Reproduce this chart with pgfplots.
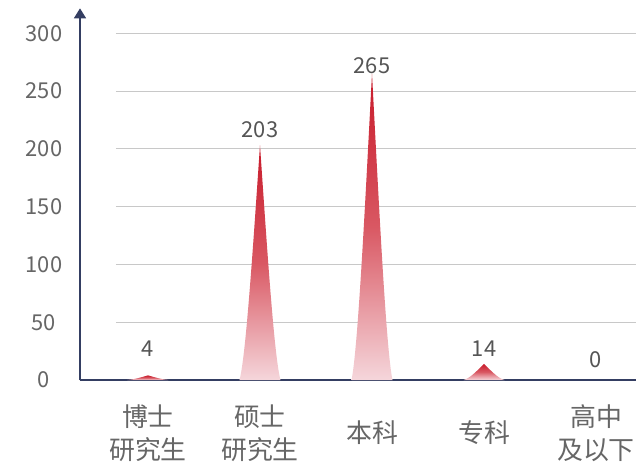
\documentclass[border=0pt]{standalone}
\usepackage{fontspec}
\setmainfont{Noto Sans CJK SC}
\usepackage{pgfplots}
\pgfplotsset{compat=1.18}
\usepackage{pgfplotstable}
\usetikzlibrary{arrows.meta}
\definecolor{spktop}{RGB}{200,26,42}
\definecolor{spkmid}{RGB}{217,88,99}
\definecolor{spkbot}{RGB}{245,214,219}
\definecolor{axisc}{RGB}{52,62,98}
\definecolor{gridc}{RGB}{200,200,200}
\definecolor{tickc}{RGB}{102,102,102}
\definecolor{labc}{RGB}{85,85,85}
\pgfdeclareverticalshading{spikeshade}{100bp}{color(0bp)=(spkbot); color(25bp)=(spkbot); color(50bp)=(spkmid); color(75bp)=(spktop); color(100bp)=(spktop)}
\pgfdeclareplotmark{spike}{%
  \pgfmathsetmacro\h{\yv*1.1557}%
  \ifdim\h pt>0.01pt
    \pgfmathsetmacro\ha{0.9*\h}%
    \pgfmathsetmacro\hb{0.4*\h}%
    \pgfpathmoveto{\pgfqpoint{-20.5bp}{-\h bp}}%
    \pgfpathcurveto{\pgfqpoint{-14bp}{-\ha bp}}{\pgfqpoint{-6.5bp}{-\hb bp}}{\pgfqpoint{0bp}{0bp}}%
    \pgfpathcurveto{\pgfqpoint{6.5bp}{-\hb bp}}{\pgfqpoint{14bp}{-\ha bp}}{\pgfqpoint{20.5bp}{-\h bp}}%
    \pgfpathclose
    \pgfshadepath{spikeshade}{0}%
    \pgfusepath{discard}%
  \fi
}
\pgfplotstableread{
x y off
0 4 26.6
1 203 15.9
2 265 7.7
3 14 15
4 0 20
}\datatable
\begin{document}
\begin{tikzpicture}
\path[use as bounding box] (-80bp,-87bp) rectangle (556bp,380bp);
\begin{axis}[
  scale only axis, width=556bp, y=1.1557bp,
  xmin=-0.607, xmax=4.357, ymin=0, ymax=321.6,
  axis lines=left,
  axis on top,
  x axis line style={-, draw=axisc, line width=1.3bp},
  y axis line style={-{Triangle[width=12bp,length=10bp]}, draw=axisc, fill=axisc, line width=1.3bp},
  major tick length=0pt,
  xtick={0,1,2,3,4},
  xticklabels={{博士\\研究生},{硕士\\研究生},本科,专科,{高中\\及以下}},
  xticklabel style={anchor=center, yshift=-53bp, align=center, font=\fontsize{26}{33}\selectfont, text=tickc},
  ytick={0,50,...,300},
  yticklabel style={anchor=center, xshift=-36bp, font=\fontsize{22}{26}\selectfont, text=tickc},
  /pgf/number format/assume math mode=true,
  clip=false,
]
\pgfplotsinvokeforeach{50,100,150,200,250,300}{\draw[gridc, line width=1bp] (axis cs:-0.286,#1) -- (axis cs:4.357,#1);}
\addplot[only marks, mark=spike,
  visualization depends on={\thisrow{y} \as \yv},
  visualization depends on={\thisrow{off} \as \off},
  nodes near coords,
  nodes near coords style={anchor=center, yshift=\off bp, font=\fontsize{22}{26}\selectfont, text=labc},
] table[x=x,y=y] {\datatable};
\end{axis}
\end{tikzpicture}
\end{document}
